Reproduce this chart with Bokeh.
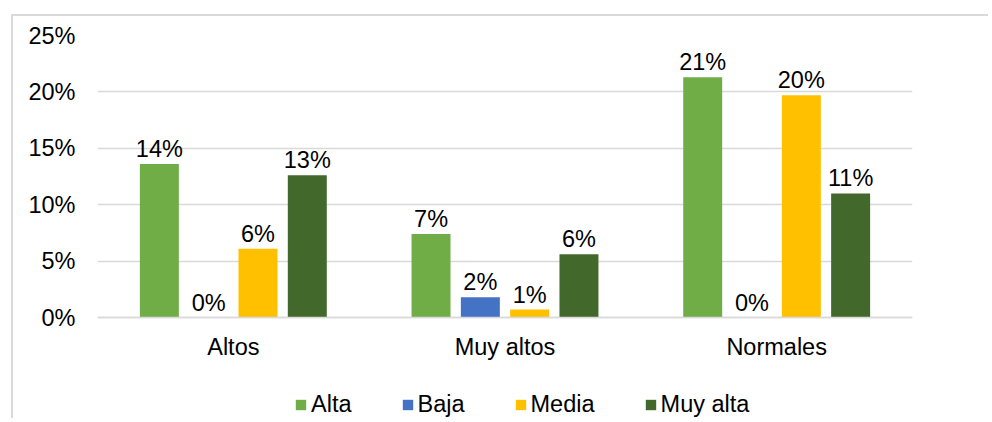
from bokeh.plotting import figure
from bokeh.models import (ColumnDataSource, Legend, LegendItem, PrintfTickFormatter,
                          FixedTicker, Range1d)
from bokeh.transform import dodge
from bokeh.core.properties import value
from bokeh.embed import file_html
from bokeh.resources import INLINE

# ---- data ----
categories = ["Altos", "Muy altos", "Normales"]
series_names = ["Alta", "Baja", "Media", "Muy alta"]
alta = [13.6, 7.4, 21.3]
baja = [0.0, 1.8, 0.0]
media = [6.1, 0.7, 19.7]
muy_alta = [12.6, 5.6, 11.0]
y_ticks = [0, 5, 10, 15, 20, 25]

series_values = [alta, baja, media, muy_alta]
colors = ["#70AD47", "#4472C4", "#FFC000", "#43682B"]

FONT = "Liberation Sans"
FS = "23.5px"

# frame: 282 px for 0..25 %, plus 103 px below zero holding axis labels + legend
PX_PER_UNIT = 282 / 25
y_min = -103 / PX_PER_UNIT

p = figure(x_range=categories, y_range=Range1d(y_min, 25), width=977, height=404,
           output_backend="svg", toolbar_location=None,
           min_border_left=84, min_border_right=78, min_border_top=19, min_border_bottom=0)
p.margin = (14, 0, 0, 11)
p.styles = {"border-left": "2px solid #d9d9d9", "border-top": "2px solid #d9d9d9"}
p.outline_line_color = None
p.background_fill_color = "white"
p.border_fill_color = "white"

slot = 0.1815
bw = 0.1435
offsets = [-1.5 * slot, -0.5 * slot, 0.5 * slot, 1.5 * slot]

items = []
for name, vals, col, off in zip(series_names, series_values, colors, offsets):
    src = ColumnDataSource(dict(cat=categories, val=vals,
                                lab=[f"{round(v + 1e-9):.0f}%" for v in vals]))
    r = p.vbar(x=dodge("cat", off, range=p.x_range), top="val", width=bw, bottom=0,
               source=src, fill_color=col, line_color=None)
    p.text(x=dodge("cat", off, range=p.x_range), y="val", text="lab", source=src,
           text_align="center", text_baseline="bottom", y_offset=-2,
           text_font=value(FONT), text_font_size=FS, text_color="#000000")
    items.append(LegendItem(label=name, renderers=[r]))

# axes
p.yaxis.ticker = FixedTicker(ticks=y_ticks)
p.yaxis.formatter = PrintfTickFormatter(format="%d%%")
p.yaxis.axis_line_color = None
p.yaxis.major_tick_line_color = None
p.yaxis.minor_tick_line_color = None
p.yaxis.major_label_standoff = 16
p.yaxis.major_label_text_font = FONT
p.yaxis.major_label_text_font_size = FS
p.yaxis.major_label_text_color = "#000000"

p.xaxis.fixed_location = 0
p.xaxis.axis_line_color = "#d9d9d9"
p.xaxis.axis_line_width = 1.5
p.xaxis.major_tick_line_color = None
p.xaxis.minor_tick_line_color = None
p.xaxis.major_label_standoff = 10
p.xaxis.major_label_text_font = FONT
p.xaxis.major_label_text_font_size = FS
p.xaxis.major_label_text_color = "#000000"

p.xgrid.grid_line_color = None
p.ygrid.grid_line_color = "#d9d9d9"
p.ygrid.grid_line_width = 1.5
p.ygrid.ticker = FixedTicker(ticks=y_ticks)

legend = Legend(items=items, orientation="horizontal", location=(197, 2),
                glyph_width=13, glyph_height=13, label_standoff=4, spacing=49,
                padding=0, margin=0, border_line_color=None, background_fill_alpha=0,
                label_text_font=FONT, label_text_font_size=FS, label_text_color="#000000")
p.add_layout(legend, "center")

open("out.html", "w").write(file_html(p, INLINE))
